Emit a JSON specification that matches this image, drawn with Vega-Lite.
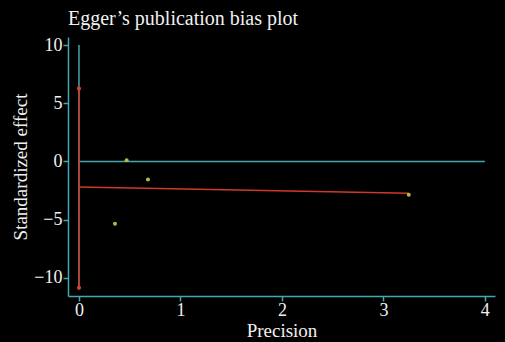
{
  "$schema": "https://vega.github.io/schema/vega-lite/v6.json",
  "width": 427,
  "height": 259,
  "autosize": {"type": "none"},
  "padding": {"left": 68, "top": 37, "right": 10, "bottom": 46},
  "background": "#000000",
  "config": {
    "view": {"stroke": null},
    "font": "Liberation Serif",
    "axis": {
      "grid": false,
      "domainColor": "#45a6ad",
      "tickColor": "#45a6ad",
      "domainWidth": 1.5,
      "tickWidth": 1.5,
      "tickSize": 5,
      "labelColor": "#f0f0f0",
      "titleColor": "#f0f0f0",
      "labelFont": "Liberation Serif",
      "titleFont": "Liberation Serif",
      "labelFontSize": 18,
      "titleFontSize": 19,
      "titleFontWeight": "normal"
    }
  },
  "title": {
    "text": "Egger’s publication bias plot",
    "anchor": "start",
    "frame": "group",
    "offset": 7,
    "font": "Liberation Serif",
    "fontSize": 20,
    "fontWeight": "normal",
    "color": "#f0f0f0"
  },
  "datasets": {
    "studies": [
      {"precision": 0.47, "effect": 0.1},
      {"precision": 0.68, "effect": -1.55},
      {"precision": 0.355, "effect": -5.35},
      {"precision": 3.25, "effect": -2.85}
    ],
    "fit": [
      {"precision": 0, "effect": -2.2},
      {"precision": 3.25, "effect": -2.72}
    ],
    "ci": [
      {"precision": 0, "effect": 6.25},
      {"precision": 0, "effect": -10.85}
    ],
    "refs": [
      {"x1": 0, "x2": 4, "y1": 0, "y2": 0},
      {"x1": 0, "x2": 0, "y1": -10.85, "y2": 10}
    ]
  },
  "layer": [
    {
      "data": {"name": "refs"},
      "mark": {"type": "rule", "color": "#45a6ad", "strokeWidth": 1.5},
      "encoding": {
        "x": {
          "field": "x1", "type": "quantitative",
          "scale": {"domain": [-0.108, 4.1], "nice": false, "zero": false},
          "axis": {"values": [0, 1, 2, 3, 4], "format": "d", "title": "Precision", "labelPadding": 0, "titlePadding": 2}
        },
        "x2": {"field": "x2"},
        "y": {
          "field": "y1", "type": "quantitative",
          "scale": {"domain": [-11.55, 10.69], "nice": false, "zero": false},
          "axis": {"values": [-10, -5, 0, 5, 10], "format": "d", "title": "Standardized effect", "labelPadding": 1, "titlePadding": 3}
        },
        "y2": {"field": "y2"}
      }
    },
    {
      "data": {"name": "fit"},
      "mark": {"type": "line", "color": "#cc3b27", "strokeWidth": 1.5},
      "encoding": {
        "x": {"field": "precision", "type": "quantitative"},
        "y": {"field": "effect", "type": "quantitative"}
      }
    },
    {
      "data": {"name": "ci"},
      "mark": {"type": "line", "color": "#cc3b27", "strokeWidth": 1.5},
      "encoding": {
        "x": {"field": "precision", "type": "quantitative"},
        "y": {"field": "effect", "type": "quantitative"}
      }
    },
    {
      "data": {"name": "ci"},
      "mark": {"type": "point", "filled": true, "color": "#d8432c", "size": 18, "opacity": 1},
      "encoding": {
        "x": {"field": "precision", "type": "quantitative"},
        "y": {"field": "effect", "type": "quantitative"}
      }
    },
    {
      "data": {"name": "studies"},
      "mark": {"type": "point", "filled": true, "color": "#b8b840", "size": 16, "opacity": 1},
      "encoding": {
        "x": {"field": "precision", "type": "quantitative"},
        "y": {"field": "effect", "type": "quantitative"}
      }
    }
  ]
}
